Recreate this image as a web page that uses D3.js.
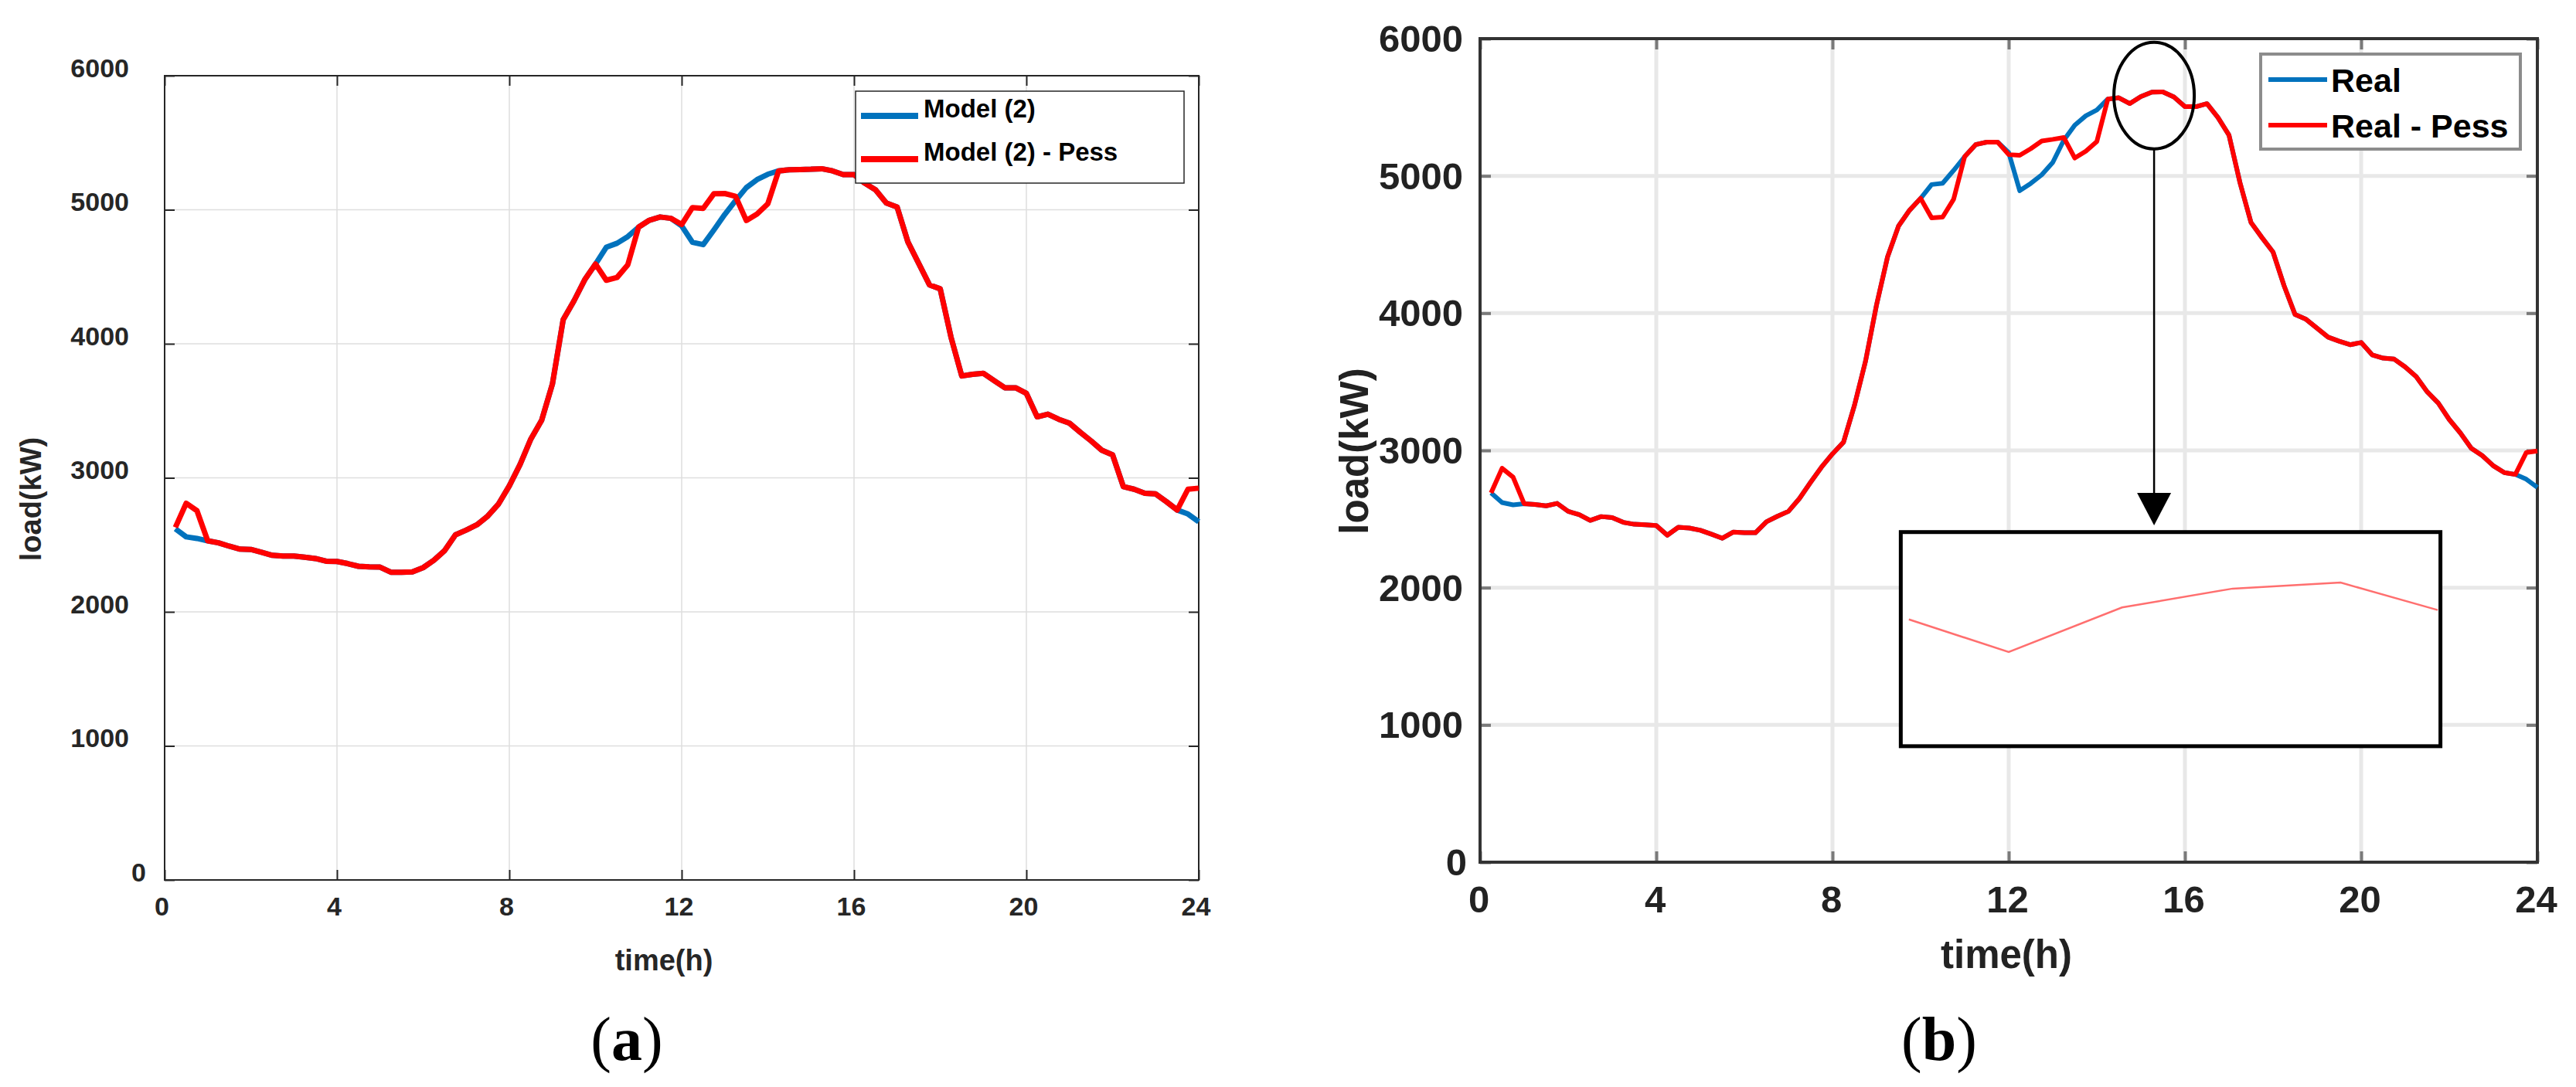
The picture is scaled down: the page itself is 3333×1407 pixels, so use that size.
<!DOCTYPE html>
<html>
<head>
<meta charset="utf-8">
<script src="https://cdn.jsdelivr.net/npm/d3@7"></script>
<style>
  body { margin: 0; background: #fff; }
</style>
</head>
<body>
<svg width="3333" height="1407"></svg>
<script>
// time axis, 15 min steps
var hours = [0.25,0.5,0.75,1,1.25,1.5,1.75,2,2.25,2.5,2.75,3,3.25,3.5,3.75,4,4.25,4.5,4.75,5,5.25,5.5,5.75,6,
  6.25,6.5,6.75,7,7.25,7.5,7.75,8,8.25,8.5,8.75,9,9.25,9.5,9.75,10,10.25,10.5,10.75,11,11.25,11.5,11.75,12,
  12.25,12.5,12.75,13,13.25,13.5,13.75,14,14.25,14.5,14.75,15,15.25,15.5,15.75,16,16.25,16.5,16.75,17,17.25,17.5,17.75,18,
  18.25,18.5,18.75,19,19.25,19.5,19.75,20,20.25,20.5,20.75,21,21.25,21.5,21.75,22,22.25,22.5,22.75,23,23.25,23.5,23.75,24];

// (a) Model (2)
var modelA = [2620,2560,2548,2530,2515,2490,2468,2466,2445,2422,
  2417,2416,2408,2398,2378,2376,2360,2340,2336,2334,
  2296,2296,2298,2330,2385,2458,2575,2610,2650,2715,
  2805,2940,3100,3290,3430,3700,4180,4320,4478,4595,
  4720,4750,4800,4870,4922,4946,4936,4880,4757,4740,
  4850,4965,5068,5165,5225,5265,5290,5298,5300,5302,
  5306,5290,5262,5262,5198,5148,5050,5020,4760,4600,
  4440,4410,4050,3760,3772,3780,3725,3672,3672,3630,
  3455,3475,3437,3408,3340,3276,3206,3172,2935,2915,
  2885,2880,2822,2760,2730,2672];
// (a) Model (2) - Pess
var pessA = [2630,2810,2755,2530,2515,2490,2468,2466,2445,2422,
  2417,2416,2408,2398,2378,2376,2360,2340,2336,2334,
  2296,2296,2298,2330,2385,2458,2575,2610,2650,2715,
  2805,2940,3100,3290,3430,3700,4180,4320,4478,4595,
  4474,4495,4590,4870,4922,4946,4936,4890,5016,5010,
  5120,5121,5100,4920,4968,5045,5290,5298,5300,5302,
  5306,5290,5262,5262,5198,5148,5050,5020,4760,4600,
  4440,4410,4050,3760,3772,3780,3725,3672,3672,3630,
  3455,3475,3437,3408,3340,3276,3206,3172,2935,2915,
  2885,2880,2822,2760,2915,2923];

// (b) Real
var realB = [2690,2620,2603,2612,2606,2596,2614,2556,2532,2490,
  2518,2510,2476,2462,2458,2453,2382,2440,2434,2418,
  2390,2360,2405,2401,2400,2480,2520,2556,2650,2766,
  2878,2975,3060,3330,3650,4060,4410,4635,4750,4836,
  4937,4946,5040,5140,5228,5246,5246,5170,4892,4945,
  5008,5098,5260,5370,5438,5480,5560,5569,5527,5578,
  5610,5612,5575,5505,5504,5526,5425,5297,4950,4660,
  4550,4445,4200,3990,3955,3890,3825,3796,3770,3786,
  3696,3672,3665,3608,3538,3427,3345,3225,3128,3015,
  2962,2888,2838,2825,2790,2730];
// (b) Real - Pess
var pessB = [2690,2870,2805,2612,2606,2596,2614,2556,2532,2490,
  2518,2510,2476,2462,2458,2453,2382,2440,2434,2418,
  2390,2360,2405,2401,2400,2480,2520,2556,2650,2766,
  2878,2975,3060,3330,3650,4060,4410,4635,4750,4836,
  4694,4700,4830,5140,5228,5246,5246,5155,5150,5198,
  5254,5266,5280,5130,5180,5250,5560,5569,5527,5578,
  5610,5612,5575,5505,5504,5526,5425,5297,4950,4660,
  4550,4445,4200,3990,3955,3890,3825,3796,3770,3786,
  3696,3672,3665,3608,3538,3427,3345,3225,3128,3015,
  2962,2888,2838,2825,2985,2996];

// zoomed view inside the box of (b)
var insetHours = [14.53, 14.9, 15.32, 15.73, 16.13, 16.49];
var insetLoad = [5598, 5560, 5612, 5634, 5641, 5609];

var xTicks = [0, 4, 8, 12, 16, 20, 24];
var yTicks = [0, 1000, 2000, 3000, 4000, 5000, 6000];

var BLUE = "#0072BD", RED = "#FF0000";
var svg = d3.select("svg");

function panel(o) {
  var x = d3.scaleLinear().domain([0, 24]).range([o.left, o.right]);
  var y = d3.scaleLinear().domain([0, 6000]).range([o.bottom, o.top]);
  var g = svg.append("g");

  // grid
  g.append("g").selectAll("line").data(xTicks.slice(1, -1)).join("line")
    .attr("x1", d => x(d)).attr("x2", d => x(d))
    .attr("y1", o.top).attr("y2", o.bottom)
    .attr("stroke", o.grid).attr("stroke-width", o.gridW);
  g.append("g").selectAll("line").data(yTicks.slice(1, -1)).join("line")
    .attr("y1", d => y(d)).attr("y2", d => y(d))
    .attr("x1", o.left).attr("x2", o.right)
    .attr("stroke", o.grid).attr("stroke-width", o.gridW);

  // axes, ticks pointing inward on all four sides
  var fmt = d3.format("d");
  var ax = [
    [d3.axisBottom(x).tickValues(xTicks).tickFormat(fmt), `translate(0,${o.bottom})`],
    [d3.axisTop(x).tickValues(xTicks).tickFormat(""), `translate(0,${o.top})`],
    [d3.axisLeft(y).tickValues(yTicks).tickFormat(fmt), `translate(${o.left},0)`],
    [d3.axisRight(y).tickValues(yTicks).tickFormat(""), `translate(${o.right},0)`]
  ];
  var axG = ax.map(function(a) {
    var ag = g.append("g").attr("transform", a[1])
      .call(a[0].tickSizeInner(-o.tick).tickSizeOuter(0));
    ag.select(".domain").remove();
    ag.selectAll(".tick line").attr("stroke", o.tickColor).attr("stroke-width", o.tickW);
    ag.attr("font-family", "'Liberation Sans', Arial, sans-serif")
      .attr("font-size", o.tickFont).attr("font-weight", "bold");
    return ag;
  });
  axG[0].selectAll("text").attr("fill", o.textColor)
    .attr("y", o.xLabY).attr("dy", "0.36em").attr("dx", o.xLabDx);
  axG[2].selectAll("text").attr("fill", o.textColor)
    .attr("x", d => d === 0 ? o.yLabX0 : o.yLabX).attr("dy", "0.36em")
    .attr("y", o.yLabDy);

  // frame
  g.append("rect").attr("x", o.left).attr("y", o.top)
    .attr("width", o.right - o.left).attr("height", o.bottom - o.top)
    .attr("fill", "none").attr("stroke", o.frame).attr("stroke-width", o.frameW);

  // series
  var line = d3.line().x((d, i) => x(hours[i])).y(d => y(d));
  o.series.forEach(function(s) {
    g.append("path").datum(s.values)
      .attr("fill", "none").attr("stroke", s.color)
      .attr("stroke-width", o.lineW).attr("stroke-linejoin", "round")
      .attr("d", line);
  });

  // axis titles
  g.append("text").attr("x", o.xTitle[0]).attr("y", o.xTitle[1])
    .attr("text-anchor", "middle").attr("dominant-baseline", "central")
    .attr("font-family", "'Liberation Sans', Arial, sans-serif").attr("font-weight", "bold")
    .attr("font-size", o.titleFont).attr("fill", o.textColor).text("time(h)");
  g.append("text")
    .attr("transform", `translate(${o.yTitle[0]},${o.yTitle[1]}) rotate(-90)`)
    .attr("text-anchor", "middle").attr("dominant-baseline", "central")
    .attr("font-family", "'Liberation Sans', Arial, sans-serif").attr("font-weight", "bold")
    .attr("font-size", o.titleFont).attr("fill", o.textColor).text("load(kW)");

  // legend
  var lg = o.legend;
  g.append("rect").attr("x", lg.x).attr("y", lg.y).attr("width", lg.w).attr("height", lg.h)
    .attr("fill", "#fff").attr("stroke", lg.stroke).attr("stroke-width", lg.strokeW);
  o.series.forEach(function(s, i) {
    var ly = lg.rows[i];
    g.append("line").attr("x1", lg.lineX[0]).attr("x2", lg.lineX[1])
      .attr("y1", ly).attr("y2", ly)
      .attr("stroke", s.color).attr("stroke-width", lg.lineW);
    g.append("text").attr("x", lg.textX).attr("y", ly).attr("dy", lg.textDy)
      .attr("font-family", "'Liberation Sans', Arial, sans-serif").attr("font-weight", "bold")
      .attr("font-size", lg.font).attr("fill", "#000").text(s.name);
  });

  // caption
  var cap = g.append("text").attr("x", o.caption[0]).attr("y", o.caption[1])
    .attr("text-anchor", "middle")
    .attr("font-family", "'Liberation Serif', 'Times New Roman', serif")
    .attr("font-size", 80).attr("fill", "#000");
  cap.append("tspan").text("(");
  cap.append("tspan").attr("font-weight", "bold").text(o.letter);
  cap.append("tspan").text(")");

  return { g: g, x: x, y: y };
}

// (a)
panel({
  left: 213, right: 1551, top: 98, bottom: 1139,
  grid: "#dedede", gridW: 1.5, tick: 13, tickW: 2, tickColor: "#262626",
  frame: "#262626", frameW: 2, textColor: "#262626",
  tickFont: 34, xLabY: 34, xLabDx: -4, yLabX: -46, yLabX0: -24, yLabDy: -11,
  lineW: 7,
  series: [
    { name: "Model (2)", values: modelA, color: BLUE },
    { name: "Model (2) - Pess", values: pessA, color: RED }
  ],
  titleFont: 38, xTitle: [859, 1243], yTitle: [40, 646],
  legend: { x: 1107, y: 118, w: 425, h: 119, stroke: "#262626", strokeW: 1.5,
    rows: [150, 206], lineX: [1114, 1188], lineW: 8, textX: 1195, textDy: "0.05em", font: 33 },
  caption: [811, 1372], letter: "a"
});

// (b)
var pb = panel({
  left: 1915, right: 3283, top: 50, bottom: 1116,
  grid: "#e8e8e8", gridW: 5, tick: 14, tickW: 4, tickColor: "#7a7a7a",
  frame: "#333", frameW: 4, textColor: "#222",
  tickFont: 49, xLabY: 47, xLabDx: -2, yLabX: -22, yLabX0: -17, yLabDy: -1,
  lineW: 6,
  series: [
    { name: "Real", values: realB, color: BLUE },
    { name: "Real - Pess", values: pessB, color: RED }
  ],
  titleFont: 51, xTitle: [2596, 1235], yTitle: [1752, 584],
  legend: { x: 2925, y: 70, w: 336, h: 123, stroke: "#8c8c8c", strokeW: 4,
    rows: [103, 162], lineX: [2935, 3011], lineW: 6, textX: 3016, textDy: "0.38em", font: 43 },
  caption: [2509, 1372], letter: "b"
});

// highlight of the peak and zoom box
var x = pb.x, y = pb.y, gb = pb.g;
var ell = { h: 15.3, v: 5585 };
var ellRx = 52, ellRy = 69;
gb.append("ellipse").attr("cx", x(ell.h)).attr("cy", y(ell.v))
  .attr("rx", ellRx).attr("ry", ellRy)
  .attr("fill", "none").attr("stroke", "#000").attr("stroke-width", 4);

var box = { h0: 9.55, h1: 21.8, v0: 845, v1: 2405 };
var arrowTip = 2454;
gb.append("line").attr("x1", x(ell.h)).attr("x2", x(ell.h))
  .attr("y1", y(ell.v) + ellRy).attr("y2", y(arrowTip) - 40)
  .attr("stroke", "#000").attr("stroke-width", 2.5);
gb.append("path")
  .attr("d", `M${x(ell.h) - 22},${y(arrowTip) - 42}L${x(ell.h) + 22},${y(arrowTip) - 42}L${x(ell.h)},${y(arrowTip)}Z`)
  .attr("fill", "#000");

gb.append("rect").attr("x", x(box.h0)).attr("y", y(box.v1))
  .attr("width", x(box.h1) - x(box.h0)).attr("height", y(box.v0) - y(box.v1))
  .attr("fill", "#fff").attr("stroke", "#000").attr("stroke-width", 5);

var ix = d3.scaleLinear().domain([14.5, 16.5]).range([x(box.h0), x(box.h1)]);
var iy = d3.scaleLinear().domain([5450, 5700]).range([y(box.v0), y(box.v1)]);
gb.append("path").datum(insetLoad)
  .attr("fill", "none").attr("stroke", "#ff6f6f").attr("stroke-width", 2.5)
  .attr("d", d3.line().x((d, i) => ix(insetHours[i])).y(d => iy(d)));
</script>
</body>
</html>
